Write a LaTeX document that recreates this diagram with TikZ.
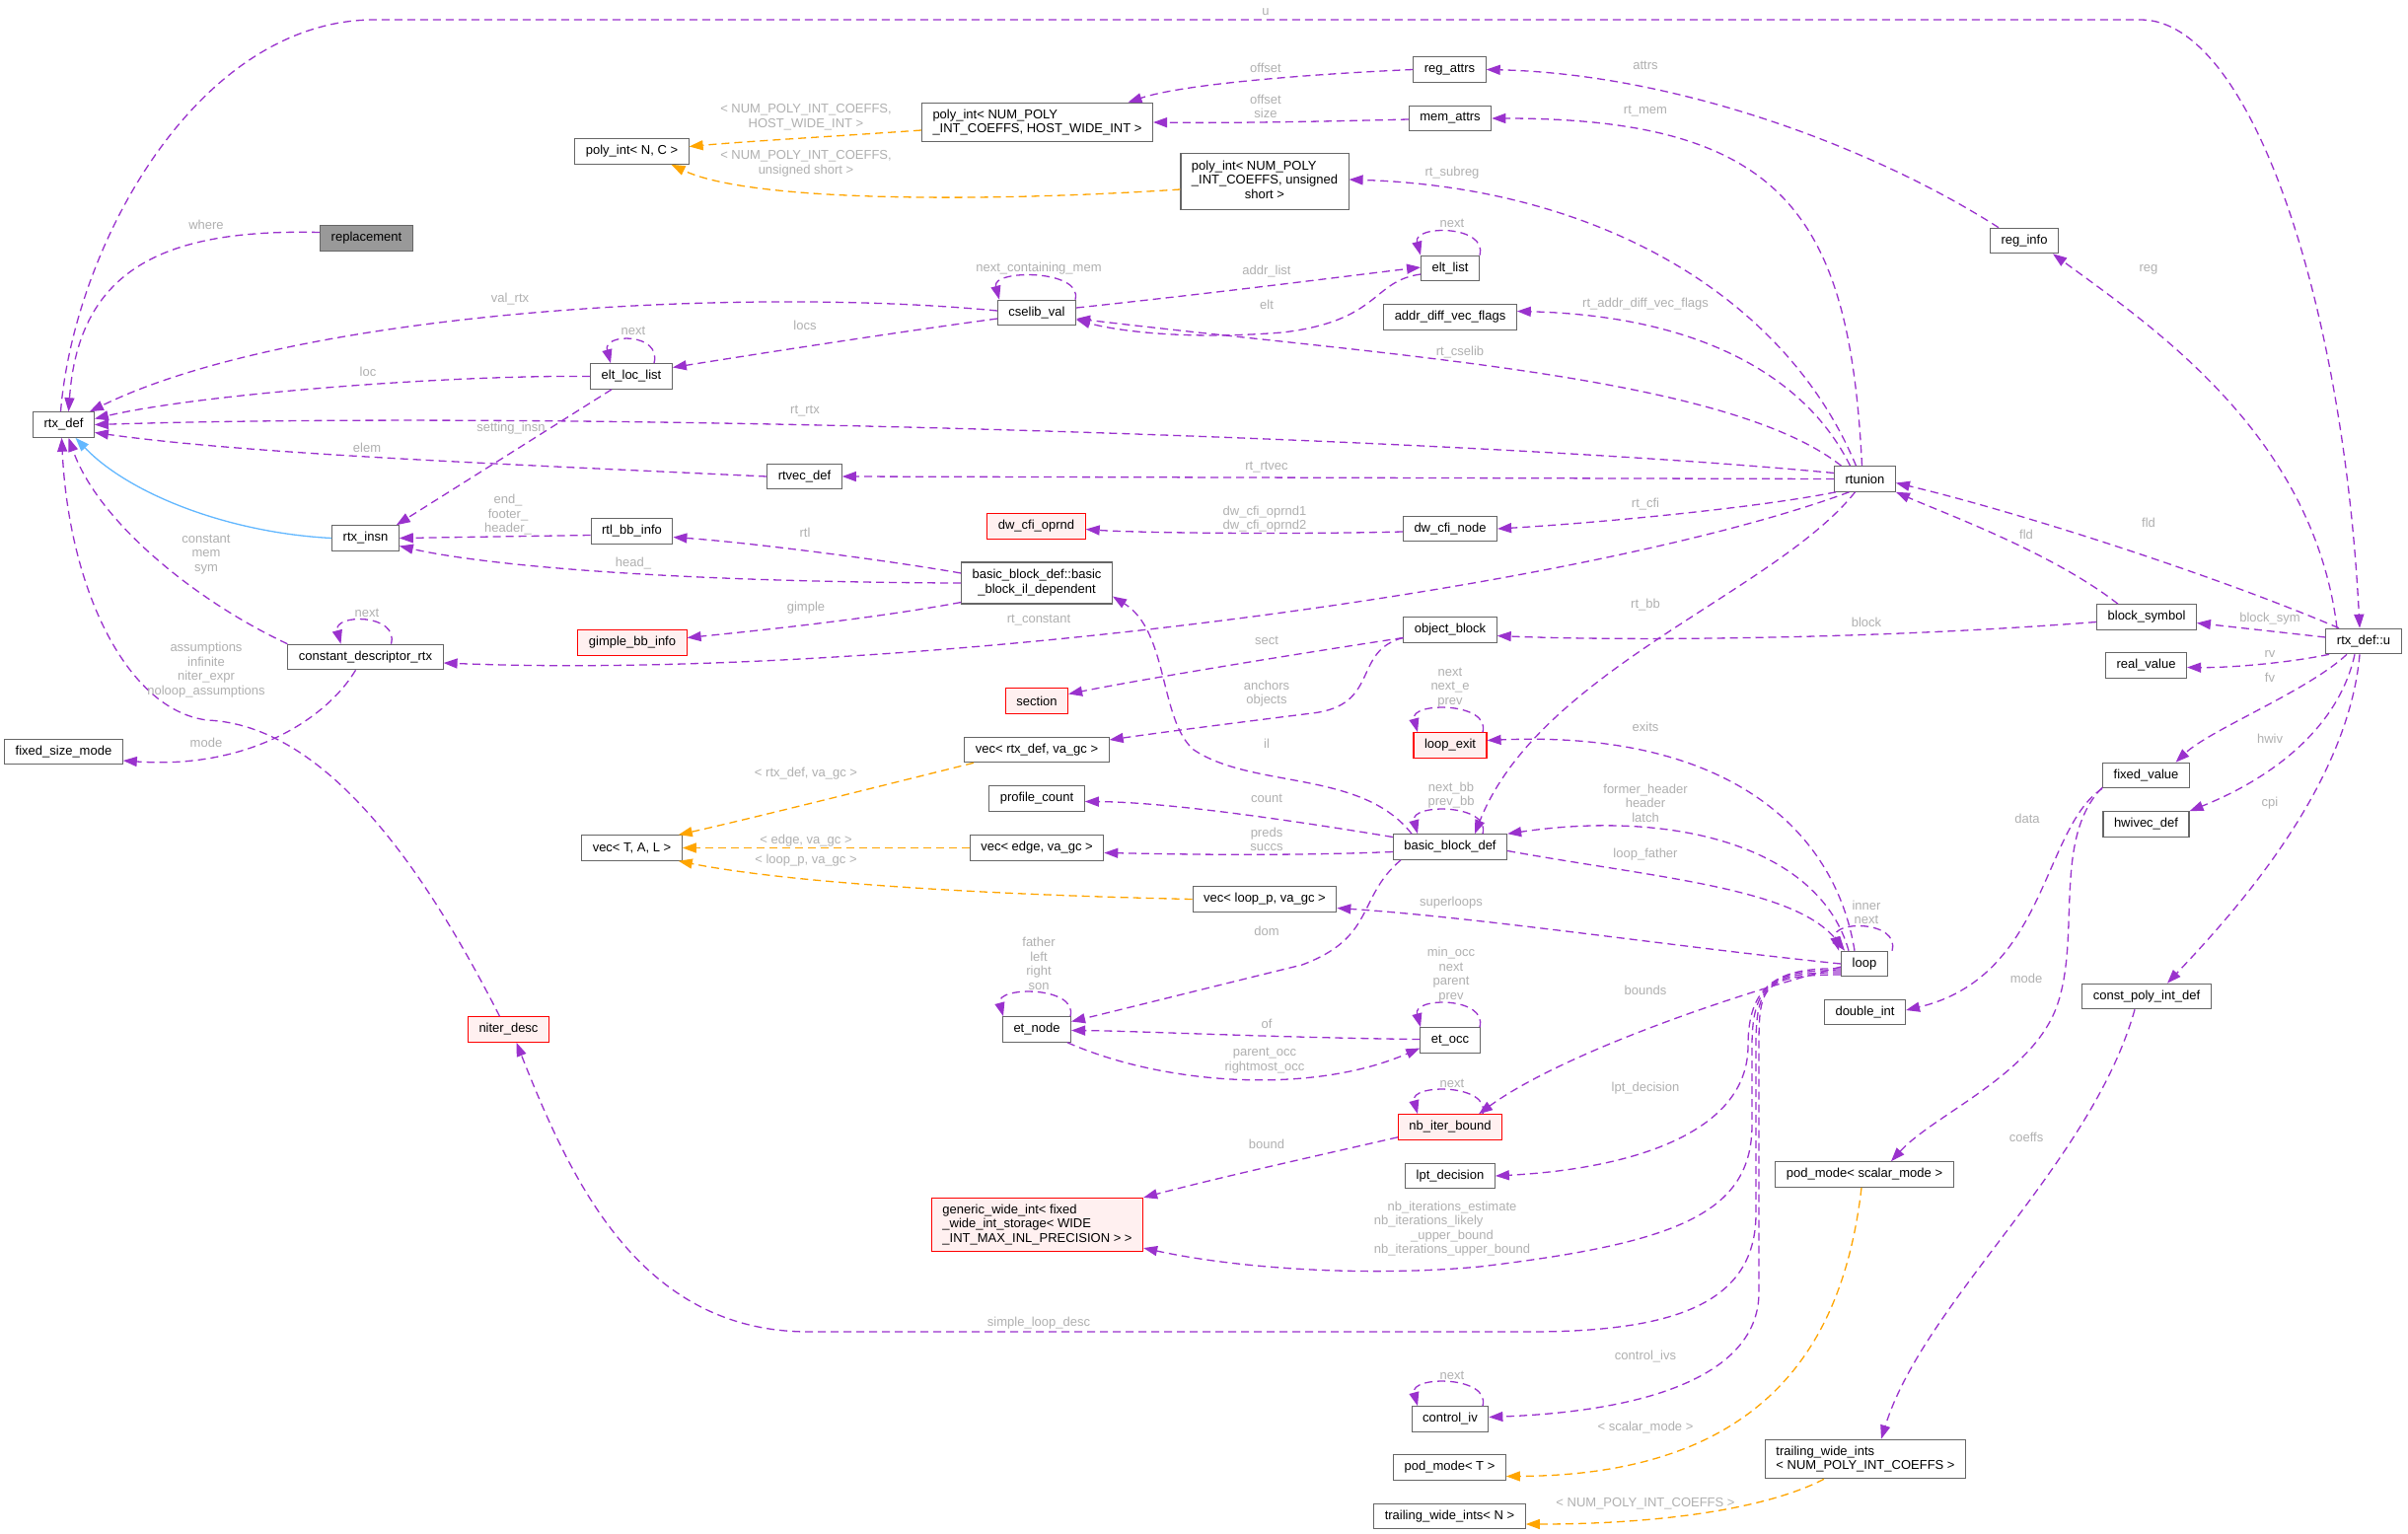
\documentclass[tikz,border=0pt]{standalone}
\usepackage{fontspec}
\setmainfont{Liberation Sans}
\usetikzlibrary{arrows.meta}
\definecolor{ptrpurple}{HTML}{9A32CD}
\definecolor{tmplorange}{HTML}{FFA500}
\definecolor{inhblue}{HTML}{63B8FF}
\definecolor{boxgray}{HTML}{666666}
\definecolor{redfill}{HTML}{FFF0F0}
\definecolor{rootfill}{HTML}{999999}
\definecolor{lblgray}{HTML}{B0B0B0}
\newcommand{\gfont}{\fontsize{13}{14.5}\selectfont}

\begin{document}
\begin{tikzpicture}[x=1pt,y=-1pt,
    cls/.style={draw=boxgray, line width=1.1pt, fill=white, font=\gfont, inner xsep=11pt, inner ysep=6.5pt, minimum height=25.5pt},
    redcls/.style={cls, draw=red, fill=redfill},
    ptr/.style={draw=ptrpurple, line width=1.3pt, dash pattern=on 8pt off 5pt, -{Triangle[length=14pt,width=10pt]}},
    tmpl/.style={ptr, draw=tmplorange},
    inh/.style={draw=inhblue, line width=1.3pt, -{Triangle[length=14pt,width=10pt]}},
    lbl/.style={font=\gfont, text=lblgray, align=center, inner sep=0pt}]

    \path[use as bounding box, fill=white] (0,0) rectangle (2441,1555);

    % classes
    \node[cls] (rtxdef) at (64.5,430.5) {rtx\_def};
    \node[cls, fill=rootfill] (replacement) at (371.5,241.5) {replacement};
    \node[cls] (polyNC) at (640.5,153.5) {poly\_int< N, C >};
    \node[cls, align=left] (polyHWI) at (1051.5,124) {poly\_int< NUM\_POLY\\\_INT\_COEFFS, HOST\_WIDE\_INT >};
    \node[cls] (regattrs) at (1469.5,70.5) {reg\_attrs};
    \node[cls] (memattrs) at (1470,120) {mem\_attrs};
    \node[cls] (polyUS) at (1282,184) {\begin{tabular}{@{}l@{}}poly\_int< NUM\_POLY\\\_INT\_COEFFS, unsigned\\\multicolumn{1}{@{}c@{}}{short >}\end{tabular}};
    \node[cls] (eltlist) at (1470,272) {elt\_list};
    \node[cls] (addrdiff) at (1470,321.5) {addr\_diff\_vec\_flags};
    \node[cls] (cselibval) at (1051,317) {cselib\_val};
    \node[cls] (eltloclist) at (640,381.5) {elt\_loc\_list};
    \node[cls] (rtvecdef) at (815.5,483) {rtvec\_def};
    \node[cls] (rtunion) at (1890.5,485.5) {rtunion};
    \node[cls] (reginfo) at (2052,244) {reg\_info};
    \node[redcls] (dwcfioprnd) at (1050.5,533.5) {dw\_cfi\_oprnd};
    \node[cls] (dwcfinode) at (1470,536) {dw\_cfi\_node};
    \node[cls] (rtlbbinfo) at (640.5,538.5) {rtl\_bb\_info};
    \node[cls] (rtxinsn) at (370.5,545.5) {rtx\_insn};
    \node[cls] (bbil) at (1051,591) {\begin{tabular}{@{}l@{}}basic\_block\_def::basic\\\multicolumn{1}{@{}c@{}}{\_block\_il\_dependent}\end{tabular}};
    \node[redcls] (gimplebbinfo) at (641,651.5) {gimple\_bb\_info};
    \node[cls] (constdesc) at (370.5,666) {constant\_descriptor\_rtx};
    \node[cls] (objectblock) at (1470,638.5) {object\_block};
    \node[redcls] (section) at (1051,710.5) {section};
    \node[cls] (blocksymbol) at (2176,625.5) {block\_symbol};
    \node[cls] (rtxdefu) at (2396,650) {rtx\_def::u};
    \node[cls] (realvalue) at (2175.5,674.5) {real\_value};
    \node[redcls] (loopexit) at (1470,755.5) {loop\_exit};
    \node[cls] (vecrtx) at (1051,760) {vec< rtx\_def, va\_gc >};
    \node[cls] (fixedvalue) at (2175.5,786) {fixed\_value};
    \node[cls] (fixedsizemode) at (64.5,762) {fixed\_size\_mode};
    \node[cls] (profilecount) at (1051,809.5) {profile\_count};
    \node[cls] (hwivecdef) at (2175.5,835.5) {hwivec\_def};
    \node[cls] (vecTAL) at (640.5,859.5) {vec< T, A, L >};
    \node[cls] (vecedge) at (1051,859.5) {vec< edge, va\_gc >};
    \node[cls] (bbdef) at (1470,858.5) {basic\_block\_def};
    \node[cls] (vecloop) at (1282,911.5) {vec< loop\_p, va\_gc >};
    \node[cls] (loop) at (1890,977) {loop};
    \node[cls] (etnode) at (1051,1043.5) {et\_node};
    \node[redcls] (niterdesc) at (515.5,1043.5) {niter\_desc};
    \node[cls] (doubleint) at (1890.5,1026) {double\_int};
    \node[cls] (etocc) at (1470,1054.5) {et\_occ};
    \node[cls] (constpoly) at (2176,1010) {const\_poly\_int\_def};
    \node[redcls] (nbiter) at (1470,1142.5) {nb\_iter\_bound};
    \node[cls] (lpt) at (1470,1192) {lpt\_decision};
    \node[redcls, align=left] (gwi) at (1051.5,1241.5) {generic\_wide\_int< fixed\\\_wide\_int\_storage< WIDE\\\_INT\_MAX\_INL\_PRECISION > >};
    \node[cls] (podscalar) at (1890,1190.5) {pod\_mode< scalar\_mode >};
    \node[cls] (controliv) at (1470,1438.5) {control\_iv};
    \node[cls] (podT) at (1469.5,1487.5) {pod\_mode< T >};
    \node[cls, align=left] (twinum) at (1891,1479) {trailing\_wide\_ints\\< NUM\_POLY\_INT\_COEFFS >};
    \node[cls] (twiN) at (1469.5,1537) {trailing\_wide\_ints< N >};

    % members pointing at rtx_def
    \draw[ptr] ([yshift=6pt]replacement.west) .. controls (170,232) and (80,270) .. ([xshift=5pt]rtxdef.north);
    \draw[ptr] ([xshift=-3pt]rtxdef.north) .. controls (75,250) and (200,20) .. (380,20) -- (2170,20) .. controls (2280,20) and (2375,300) .. ([xshift=-4pt]rtxdefu.north);
    \draw[ptr] ([yshift=2pt]cselibval.west) .. controls (750,290) and (300,315) .. ([xshift=-5pt]rtxdef.north east);
    \draw[ptr] (eltloclist.west) .. controls (450,380) and (200,400) .. ([yshift=6pt]rtxdef.east);
    \draw[ptr] ([yshift=6pt]rtunion.west) .. controls (1500,445) and (600,415) .. (rtxdef.east);
    \draw[ptr] (rtvecdef.west) .. controls (500,470) and (250,460) .. ([yshift=-8pt]rtxdef.east);
    \draw[inh] (rtxinsn.west) .. controls (230,540) and (130,500) .. ([xshift=12pt]rtxdef.south);
    \draw[ptr] (constdesc.north west) .. controls (200,610) and (100,530) .. ([xshift=5pt]rtxdef.south);
    \draw[ptr] ([xshift=-9pt]niterdesc.north) .. controls (430,880) and (330,735) .. (210,730) .. controls (130,720) and (70,600) .. ([xshift=-2pt]rtxdef.south);

    % poly_int
    \draw[tmpl] ([yshift=-8pt]polyHWI.west) .. controls (850,138) and (760,143) .. ([yshift=5pt]polyNC.east);
    \draw[tmpl] ([yshift=-8pt]polyUS.west) .. controls (1000,205) and (760,205) .. ([xshift=40pt]polyNC.south);
    \draw[ptr] (regattrs.west) .. controls (1330,75) and (1200,85) .. ([xshift=92pt]polyHWI.north);
    \draw[ptr] ([yshift=-1pt]memattrs.west) .. controls (1350,123) and (1250,125) .. (polyHWI.east);
    \draw[ptr] ([xshift=-26pt]reginfo.north) .. controls (1900,150) and (1700,75) .. (regattrs.east);

    % rtunion
    \draw[ptr] ([xshift=-3pt]rtunion.north) .. controls (1875,220) and (1810,120) .. (memattrs.east);
    \draw[ptr] ([xshift=-9pt]rtunion.north) .. controls (1810,300) and (1620,190) .. ([yshift=2pt]polyUS.east);
    \draw[ptr] ([xshift=-15pt]rtunion.north) .. controls (1830,380) and (1720,320) .. ([yshift=6pt]addrdiff.east);
    \draw[ptr] ([xshift=-24pt]rtunion.north) .. controls (1750,380) and (1400,360) .. ([yshift=-6pt]cselibval.east);
    \draw[ptr] (rtunion.west) -- (rtvecdef.east);
    \draw[ptr] ([xshift=2pt]rtunion.south west) .. controls (1780,515) and (1620,530) .. (dwcfinode.east);
    \draw[ptr] ([xshift=-16pt]rtunion.south) .. controls (1600,600) and (900,690) .. ([yshift=-6pt]constdesc.east);
    \draw[ptr] ([xshift=-10pt]rtunion.south) .. controls (1800,600) and (1560,680) .. ([xshift=25pt]bbdef.north);

    % cselib
    \draw[ptr] ([yshift=-6pt]eltlist.west) .. controls (1390,285) and (1400,325) .. (1300,337) .. controls (1200,345) and (1130,335) .. ([yshift=-7pt]cselibval.east);
    \draw[ptr] ([yshift=5pt]cselibval.east) .. controls (1250,295) and (1380,278) .. ([yshift=1pt]eltlist.west);
    \draw[ptr] ([yshift=-6pt]cselibval.west) .. controls (900,338) and (760,360) .. ([yshift=9pt]eltloclist.east);
    \draw[ptr] ([xshift=-20pt]eltloclist.south) -- ([xshift=-3pt]rtxinsn.north east);

    % rtx_def::u
    \draw[ptr] ([xshift=-27pt]rtxdefu.north) .. controls (2345,440) and (2180,330) .. ([xshift=29pt]reginfo.south);
    \draw[ptr] ([xshift=-25pt]rtxdefu.north) .. controls (2250,585) and (2050,520) .. ([yshift=-4pt]rtunion.east);
    \draw[ptr] ([xshift=-29pt]blocksymbol.north) .. controls (2080,560) and (1970,520) .. (rtunion.south east);
    \draw[ptr] ([yshift=4pt]rtxdefu.west) -- ([yshift=-6pt]blocksymbol.east);
    \draw[ptr] ([xshift=-35pt]rtxdefu.south) .. controls (2320,672) and (2260,677) .. ([yshift=-2pt]realvalue.east);
    \draw[ptr] ([xshift=-17pt]rtxdefu.south) .. controls (2340,700) and (2240,740) .. ([xshift=30pt]fixedvalue.north);
    \draw[ptr] ([xshift=-9pt]rtxdefu.south) .. controls (2370,740) and (2300,790) .. (hwivecdef.north east);
    \draw[ptr] ([xshift=-4pt]rtxdefu.south) .. controls (2380,800) and (2260,930) .. ([xshift=21pt]constpoly.north);
    \draw[ptr] ([yshift=-5pt]blocksymbol.west) .. controls (1900,648) and (1650,650) .. ([yshift=-6pt]objectblock.east);
    \draw[ptr] ([xshift=-12pt]constpoly.south) .. controls (2120,1180) and (1950,1320) .. ([xshift=16pt]twinum.north);
    \draw[ptr] (fixedvalue.south west) .. controls (2070,840) and (2075,990) .. ([yshift=2pt]doubleint.east);
    \draw[ptr] ([yshift=1pt]fixedvalue.south west) .. controls (2080,850) and (2110,950) .. (2085,1020) .. controls (2060,1090) and (1960,1130) .. ([xshift=27pt]podscalar.north);
    \draw[tmpl] ([xshift=-3pt]podscalar.south) .. controls (1870,1350) and (1800,1495) .. ([yshift=-9pt]podT.east);
    \draw[tmpl] ([xshift=-42pt]twinum.south) .. controls (1790,1530) and (1680,1545) .. ([yshift=-8pt]twiN.east);

    % basic blocks
    \draw[ptr] ([yshift=-3pt]dwcfinode.west) .. controls (1300,542) and (1150,540) .. ([yshift=-3pt]dwcfioprnd.east);
    \draw[ptr] ([yshift=-4pt]rtlbbinfo.west) -- (rtxinsn.east);
    \draw[ptr] ([yshift=10pt]bbil.west) .. controls (900,568) and (760,550) .. ([yshift=-6pt]rtlbbinfo.east);
    \draw[ptr] (bbil.west) .. controls (700,590) and (500,575) .. ([yshift=-8pt]rtxinsn.east);
    \draw[ptr] ([yshift=2pt]bbil.south west) .. controls (880,628) and (760,640) .. ([yshift=5pt]gimplebbinfo.east);
    \draw[ptr] ([xshift=-10pt]constdesc.south) .. controls (330,730) and (250,780) .. ([yshift=-9pt]fixedsizemode.east);
    \draw[ptr] ([xshift=-39pt]bbdef.north) .. controls (1380,780) and (1270,800) .. (1210,760) .. controls (1175,730) and (1185,640) .. ([yshift=8pt]bbil.south east);
    \draw[ptr] ([yshift=-8pt]objectblock.west) .. controls (1300,665) and (1150,690) .. ([yshift=7pt]section.east);
    \draw[ptr] ([yshift=-8pt]objectblock.west) .. controls (1370,660) and (1400,715) .. (1330,723) .. controls (1250,733) and (1180,742) .. ([yshift=10pt]vecrtx.east);
    \draw[tmpl] ([xshift=-64pt]vecrtx.south) .. controls (900,795) and (760,830) .. ([xshift=-4pt]vecTAL.north east);
    \draw[tmpl] (vecedge.west) -- (vecTAL.east);
    \draw[tmpl] (vecloop.west) .. controls (1000,907) and (800,895) .. ([xshift=-4pt]vecTAL.south east);
    \draw[ptr] ([yshift=10pt]bbdef.west) .. controls (1300,830) and (1180,813) .. ([yshift=-3pt]profilecount.east);
    \draw[ptr] ([yshift=-5pt]bbdef.west) .. controls (1300,868) and (1200,866) .. ([yshift=-5pt]vecedge.east);
    \draw[ptr] ([xshift=-50pt]bbdef.south) .. controls (1375,910) and (1395,950) .. (1320,978) .. controls (1230,1000) and (1130,1025) .. ([yshift=8pt]etnode.east);
    \draw[ptr] ([yshift=1pt]etocc.west) .. controls (1300,1052) and (1150,1045) .. ([yshift=-1pt]etnode.east);
    \draw[ptr] ([xshift=-4pt]etnode.south east) .. controls (1180,1100) and (1330,1110) .. ([yshift=-8pt]etocc.west);

    % loop
    \draw[ptr] ([xshift=-10pt]loop.north) .. controls (1860,840) and (1750,740) .. ([yshift=5pt]loopexit.east);
    \draw[ptr] ([xshift=-16pt]loop.north) .. controls (1845,860) and (1700,820) .. (bbdef.north east);
    \draw[ptr] ([yshift=-4pt]bbdef.east) .. controls (1680,890) and (1820,900) .. ([xshift=-20pt]loop.north);
    \draw[ptr] (loop.west) .. controls (1700,960) and (1500,930) .. ([yshift=-9pt]vecloop.east);
    \draw[ptr] ([yshift=-3pt]loop.west) .. controls (1750,1010) and (1580,1070) .. ([xshift=29pt]nbiter.north);
    \draw[ptr] ([yshift=3pt]nbiter.south west) .. controls (1320,1175) and (1230,1195) .. (gwi.north east);
    \draw[ptr] ([yshift=-5pt]loop.west) .. controls (1800,980) and (1772,1000) .. (1772,1060) .. controls (1772,1150) and (1650,1185) .. (lpt.east);
    \draw[ptr] ([yshift=-7pt]loop.west) .. controls (1795,982) and (1776,1000) .. (1776,1060) -- (1776,1140) .. controls (1776,1230) and (1700,1260) .. (1500,1284) .. controls (1380,1295) and (1250,1285) .. ([yshift=4pt]gwi.south east);
    \draw[ptr] ([yshift=-9pt]loop.west) .. controls (1790,985) and (1780,1000) .. (1780,1060) -- (1780,1230) .. controls (1780,1320) and (1700,1350) .. (1550,1350) -- (820,1350) .. controls (650,1350) and (580,1200) .. ([xshift=8pt]niterdesc.south);
    \draw[ptr] ([yshift=-11pt]loop.west) .. controls (1786,988) and (1783,1000) .. (1783,1060) -- (1783,1310) .. controls (1783,1390) and (1680,1430) .. ([yshift=2pt]controliv.east);

    % self references
    \foreach \n/\l/\r in {eltlist/-30/30, cselibval/-38/39, eltloclist/-21/23, constdesc/-25/26, loopexit/-33/33, bbdef/-33/33, loop/-26/28, etnode/-34/34, etocc/-30/30, nbiter/-33/33, controliv/-33/33}
        \draw[ptr] ([xshift=\r pt]\n.north) .. controls +(75:32pt) and +(105:32pt) .. ([xshift=\l pt]\n.north);

    % member names
    \node[lbl] at (1283,12) {u};
    \node[lbl] at (209,228) {where};
    \node[lbl] at (817,119) {< NUM\_POLY\_INT\_COEFFS,\\HOST\_WIDE\_INT >};
    \node[lbl] at (817,166) {< NUM\_POLY\_INT\_COEFFS,\\unsigned short >};
    \node[lbl] at (1283,69) {offset};
    \node[lbl] at (1283,108) {offset\\size};
    \node[lbl] at (1668,66) {attrs};
    \node[lbl] at (1668,113) {rt\_mem};
    \node[lbl] at (1472,175) {rt\_subreg};
    \node[lbl] at (1472,226) {next};
    \node[lbl] at (1053,272) {next\_containing\_mem};
    \node[lbl] at (1284,275) {addr\_list};
    \node[lbl] at (1284,309) {elt};
    \node[lbl] at (517,303) {val\_rtx};
    \node[lbl] at (816,330) {locs};
    \node[lbl] at (642,335) {next};
    \node[lbl] at (373,377) {loc};
    \node[lbl] at (1668,308) {rt\_addr\_diff\_vec\_flags};
    \node[lbl] at (1480,357) {rt\_cselib};
    \node[lbl] at (816,417) {rt\_rtx};
    \node[lbl] at (518,434) {setting\_insn};
    \node[lbl] at (372,454) {elem};
    \node[lbl] at (1284,474) {rt\_rtvec};
    \node[lbl] at (2178,273) {reg};
    \node[lbl] at (1668,511) {rt\_cfi};
    \node[lbl] at (1282,526) {dw\_cfi\_oprnd1\\dw\_cfi\_oprnd2};
    \node[lbl] at (515,522) {end\_\\footer\_\\header\_};
    \node[lbl] at (816,540) {rtl};
    \node[lbl] at (642,571) {head\_};
    \node[lbl] at (209,562) {constant\\mem\\sym};
    \node[lbl] at (372,621) {next};
    \node[lbl] at (817,616) {gimple};
    \node[lbl] at (1053,629) {rt\_constant};
    \node[lbl] at (1668,613) {rt\_bb};
    \node[lbl] at (2178,530) {fld};
    \node[lbl] at (2054,542) {fld};
    \node[lbl] at (1892,631) {block};
    \node[lbl] at (2301,627) {block\_sym};
    \node[lbl] at (2301,663) {rv};
    \node[lbl] at (2301,687) {fv};
    \node[lbl] at (1284,649) {sect};
    \node[lbl] at (1470,697) {next\\next\_e\\prev};
    \node[lbl] at (1284,703) {anchors\\objects};
    \node[lbl] at (209,679) {assumptions\\infinite\\niter\_expr\\noloop\_assumptions};
    \node[lbl] at (1668,737) {exits};
    \node[lbl] at (209,753) {mode};
    \node[lbl] at (817,784) {< rtx\_def, va\_gc >};
    \node[lbl] at (1284,754) {il};
    \node[lbl] at (2301,749) {hwiv};
    \node[lbl] at (1471,806) {next\_bb\\prev\_bb};
    \node[lbl] at (1668,814) {former\_header\\header\\latch};
    \node[lbl] at (1284,809) {count};
    \node[lbl] at (2055,830) {data};
    \node[lbl] at (1284,851) {preds\\succs};
    \node[lbl] at (817,852) {< edge, va\_gc >};
    \node[lbl] at (2301,814) {cpi};
    \node[lbl] at (1668,866) {loop\_father};
    \node[lbl] at (817,872) {< loop\_p, va\_gc >};
    \node[lbl] at (1471,915) {superloops};
    \node[lbl] at (1892,925) {inner\\next};
    \node[lbl] at (1284,944) {dom};
    \node[lbl] at (1053,977) {father\\left\\right\\son};
    \node[lbl] at (1471,988) {min\_occ\\next\\parent\\prev};
    \node[lbl] at (1668,1004) {bounds};
    \node[lbl] at (1284,1038) {of};
    \node[lbl] at (1282,1075) {parent\_occ\\rightmost\_occ};
    \node[lbl] at (2054,992) {mode};
    \node[lbl] at (1472,1098) {next};
    \node[lbl] at (1668,1103) {lpt\_decision};
    \node[lbl] at (1284,1160) {bound};
    \node[lbl] at (2054,1153) {coeffs};
    \node[lbl] at (1472,1246) {\begin{tabular}{@{}c@{}}nb\_iterations\_estimate\\\multicolumn{1}{@{}l@{}}{nb\_iterations\_likely}\\\_upper\_bound\\nb\_iterations\_upper\_bound\end{tabular}};
    \node[lbl] at (1053,1341) {simple\_loop\_desc};
    \node[lbl] at (1668,1375) {control\_ivs};
    \node[lbl] at (1472,1394) {next};
    \node[lbl] at (1668,1447) {< scalar\_mode >};
    \node[lbl] at (1668,1524) {< NUM\_POLY\_INT\_COEFFS >};

\end{tikzpicture}
\end{document}
